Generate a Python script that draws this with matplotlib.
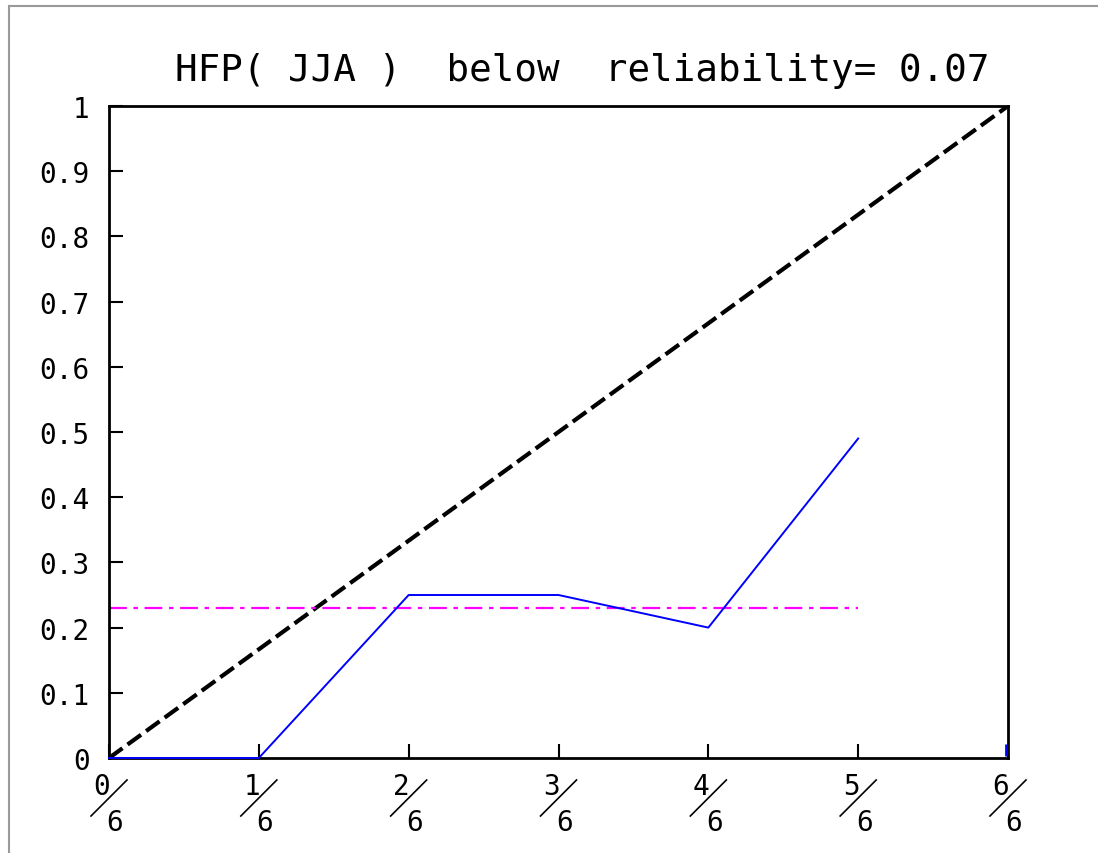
import numpy as np
import matplotlib.pyplot as plt
from matplotlib.transforms import ScaledTranslation
from matplotlib.lines import Line2D
from matplotlib.patches import Rectangle

# reliability diagram values
prob_bins = [0, 1, 2, 3, 4, 5, 6]          # forecast probability k/6
observed = [0, 0, 0.25, 0.25, 0.2, 0.49, np.nan]
climatology = 0.23
title = 'HFP( JJA )  below  reliability= 0.07'
ytick_vals = [0, 0.1, 0.2, 0.3, 0.4, 0.5, 0.6, 0.7, 0.8, 0.9, 1]
ytick_labels = ['0', '0.1', '0.2', '0.3', '0.4', '0.5', '0.6', '0.7', '0.8', '0.9', '1']

x = np.array(prob_bins) / 6

plt.rcParams['font.family'] = 'DejaVu Sans Mono'
fig = plt.figure(figsize=(10.98, 8.54), dpi=100)
ax = fig.add_axes([109 / 1098, 1 - 759 / 854, 899 / 1098, 652 / 854])

# outer grey frame of the original window
fig.patches.append(Rectangle((9 / 1098, -0.1), 1.2, 1 - 7 / 854 + 0.1,
                             transform=fig.transFigure, fill=False,
                             edgecolor='#999999', linewidth=1.5))

ax.plot([0, 1], [0, 1], color='black', linestyle=(0, (4, 1.5)), linewidth=3)
ax.plot([0, x[-2]], [climatology, climatology], color='magenta',
        linestyle=(0, (8, 3, 2, 3)), linewidth=1.6)
ax.plot(x, observed, color='blue', linewidth=1.4, zorder=5, clip_on=False)
# small blue stub at 6/6 (just inside the right spine)
ax.plot([x[-1] - 0.002], [0.012], marker='|', color='blue', markersize=8,
        markeredgewidth=2, zorder=5, clip_on=False)

ax.set_xlim(0, 1)
ax.set_ylim(0, 1)
ax.set_yticks(ytick_vals)
ax.set_yticklabels(ytick_labels, fontsize=20)
ax.set_xticks(x)
ax.set_xticklabels([])
ax.tick_params(direction='in', length=10, width=1.5, pad=14)
for s in ax.spines.values():
    s.set_linewidth(2)
    s.set_zorder(2)

ax.set_title(title, fontsize=27, pad=19, x=0.526)

# fraction-style tick labels: numerator / slash / denominator
for k, xv in zip(prob_bins, x):
    tr = fig.dpi_scale_trans + ScaledTranslation(xv, 0, ax.get_xaxis_transform())
    ax.text(-0.07, -0.28, str(k), transform=tr, fontsize=20,
            ha='center', va='center', clip_on=False)
    ax.text(0.06, -0.64, '6', transform=tr, fontsize=20,
            ha='center', va='center', clip_on=False)
    ax.add_line(Line2D([-0.18, 0.18], [-0.58, -0.22], transform=tr,
                       color='black', linewidth=1.2, clip_on=False))

fig.savefig('out.png', dpi=100)
